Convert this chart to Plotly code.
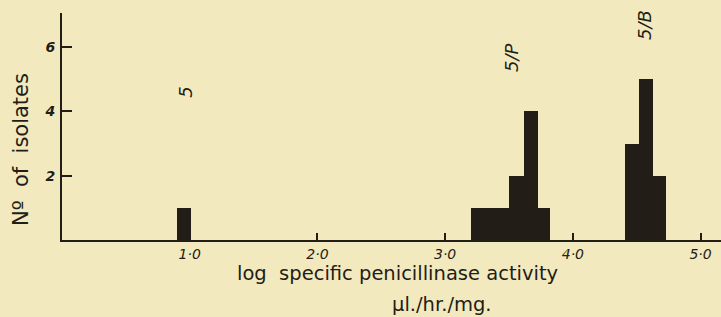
import plotly.graph_objects as go

# Histogram data
bin_left = [0.90, 3.20, 3.50, 3.62, 3.73, 4.41, 4.52, 4.63]
bin_right = [1.01, 3.50, 3.62, 3.73, 3.82, 4.52, 4.63, 4.73]
counts = [1, 1, 2, 4, 1, 3, 5, 2]

x_tickvals = [1, 2, 3, 4, 5]
x_ticktext = ["1·0", "2·0", "3·0", "4·0", "5·0"]
y_tickvals = [2, 4, 6]
y_ticktext = ["2", "4", "6"]

group_labels = ["5", "5/P", "5/B"]
group_label_x = [0.96, 3.52, 4.56]
group_label_y = [4.6, 5.68, 6.7]

BG = "#f3e9bf"
INK = "#221d16"
FONT = "DejaVu Sans"

W, H = 721, 317
ML, MR, MT, MB = 62, 0, 13, 77
plot_w = W - ML - MR
plot_h = H - MT - MB


def px(xp):
    return (xp - ML) / plot_w


def py(yp):
    return (H - MB - yp) / plot_h


centers = [(a + b) / 2 for a, b in zip(bin_left, bin_right)]
widths = [b - a for a, b in zip(bin_left, bin_right)]

fig = go.Figure()
fig.add_trace(go.Bar(
    x=centers, y=counts, width=widths,
    marker=dict(color=INK, line=dict(width=0)),
    showlegend=False, hoverinfo="skip",
))

for t, gx, gy in zip(group_labels, group_label_x, group_label_y):
    fig.add_annotation(
        x=gx, y=gy, xref="x", yref="y", text=t, showarrow=False,
        xanchor="center", yanchor="middle",
        textangle=-90, font=dict(family=FONT, size=18, color=INK, style="italic"),
    )

# Axis titles
fig.add_annotation(
    x=px(21), y=py(150), xref="paper", yref="paper", text="Nº  of  isolates",
    showarrow=False, textangle=-90, xanchor="center", yanchor="middle",
    font=dict(family=FONT, size=21, color=INK),
)
fig.add_annotation(
    x=px(397), y=py(273), xref="paper", yref="paper",
    text="log  specific penicillinase activity", showarrow=False,
    xanchor="center", yanchor="middle",
    font=dict(family=FONT, size=19.5, color=INK),
)
fig.add_annotation(
    x=px(442), y=py(304), xref="paper", yref="paper",
    text="µl./hr./mg.", showarrow=False,
    xanchor="center", yanchor="middle",
    font=dict(family=FONT, size=19.5, color=INK),
)

fig.update_layout(
    width=W, height=H,
    paper_bgcolor=BG, plot_bgcolor=BG,
    margin=dict(l=ML, r=MR, t=MT, b=MB, autoexpand=False),
    bargap=0,
    font=dict(family=FONT, color=INK),
    xaxis=dict(
        range=[0, 5.16], showgrid=False, zeroline=False, automargin=False,
        showline=True, linecolor=INK, linewidth=2,
        ticks="inside", ticklen=7, tickwidth=1.5, tickcolor=INK,
        tickvals=x_tickvals, ticktext=x_ticktext,
        tickfont=dict(family=FONT, size=14, color=INK, style="italic"),
        ticklabelstandoff=0,
    ),
    yaxis=dict(
        range=[0, 7.06], showgrid=False, zeroline=False, automargin=False,
        showline=True, linecolor=INK, linewidth=2,
        ticks="inside", ticklen=10, tickwidth=1.5, tickcolor=INK,
        tickvals=y_tickvals, ticktext=y_ticktext,
        tickfont=dict(family=FONT, size=14, color=INK, style="italic", weight="bold"),
        ticklabelstandoff=2,
    ),
)

fig.write_html(
    "out.html",
    config={"displayModeBar": False},
    post_script="document.body.style.margin='0';document.body.style.background='" + BG + "';",
)
